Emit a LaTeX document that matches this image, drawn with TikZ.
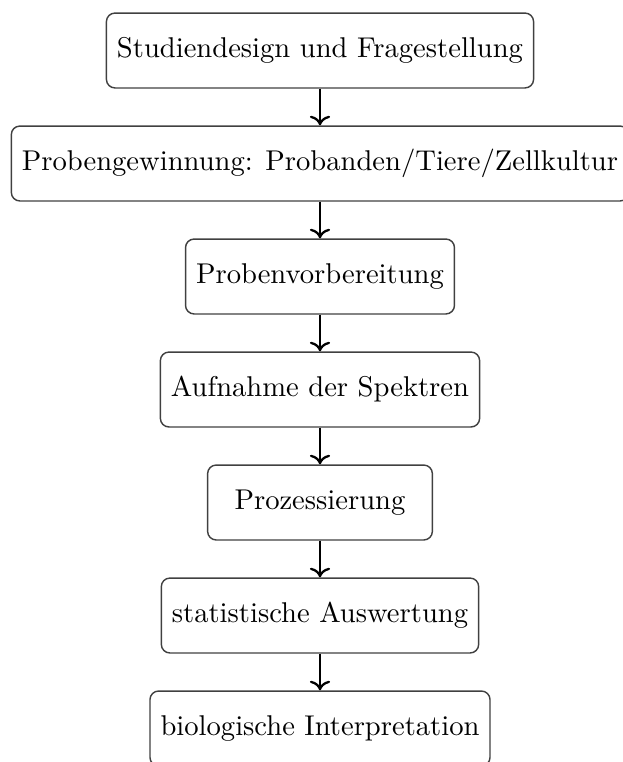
\documentclass[tikz,border=0pt]{standalone}
\usetikzlibrary{arrows.meta}

\tikzset{
  stage/.style={draw=black!75, line width=0.5pt, rounded corners=3pt,
    minimum height=26.2pt, minimum width=78.6pt, inner xsep=3.7pt,
    inner ysep=0pt, align=center},
  flow/.style={->, line width=0.8pt}
}

\begin{document}
\begin{tikzpicture}[x=0.3497pt, y=-0.3497pt]
  \useasboundingbox (0,0) rectangle (623,762);

  \node[stage] (s1) at (320,50.5)  {Studiendesign und Fragestellung};
  \node[stage] (s2) at (320,163.5) {Probengewinnung: Probanden/Tiere/Zellkultur};
  \node[stage] (s3) at (320,276.5) {Probenvorbereitung};
  \node[stage] (s4) at (320,389.5) {Aufnahme der Spektren};
  \node[stage] (s5) at (320,502.5) {Prozessierung};
  \node[stage] (s6) at (320,615.5) {statistische Auswertung};
  \node[stage] (s7) at (320,728.5) {biologische Interpretation};

  \foreach \a/\b in {s1/s2, s2/s3, s3/s4, s4/s5, s5/s6, s6/s7}
    \draw[flow] (\a.south) -- (\b.north);
\end{tikzpicture}
\end{document}
